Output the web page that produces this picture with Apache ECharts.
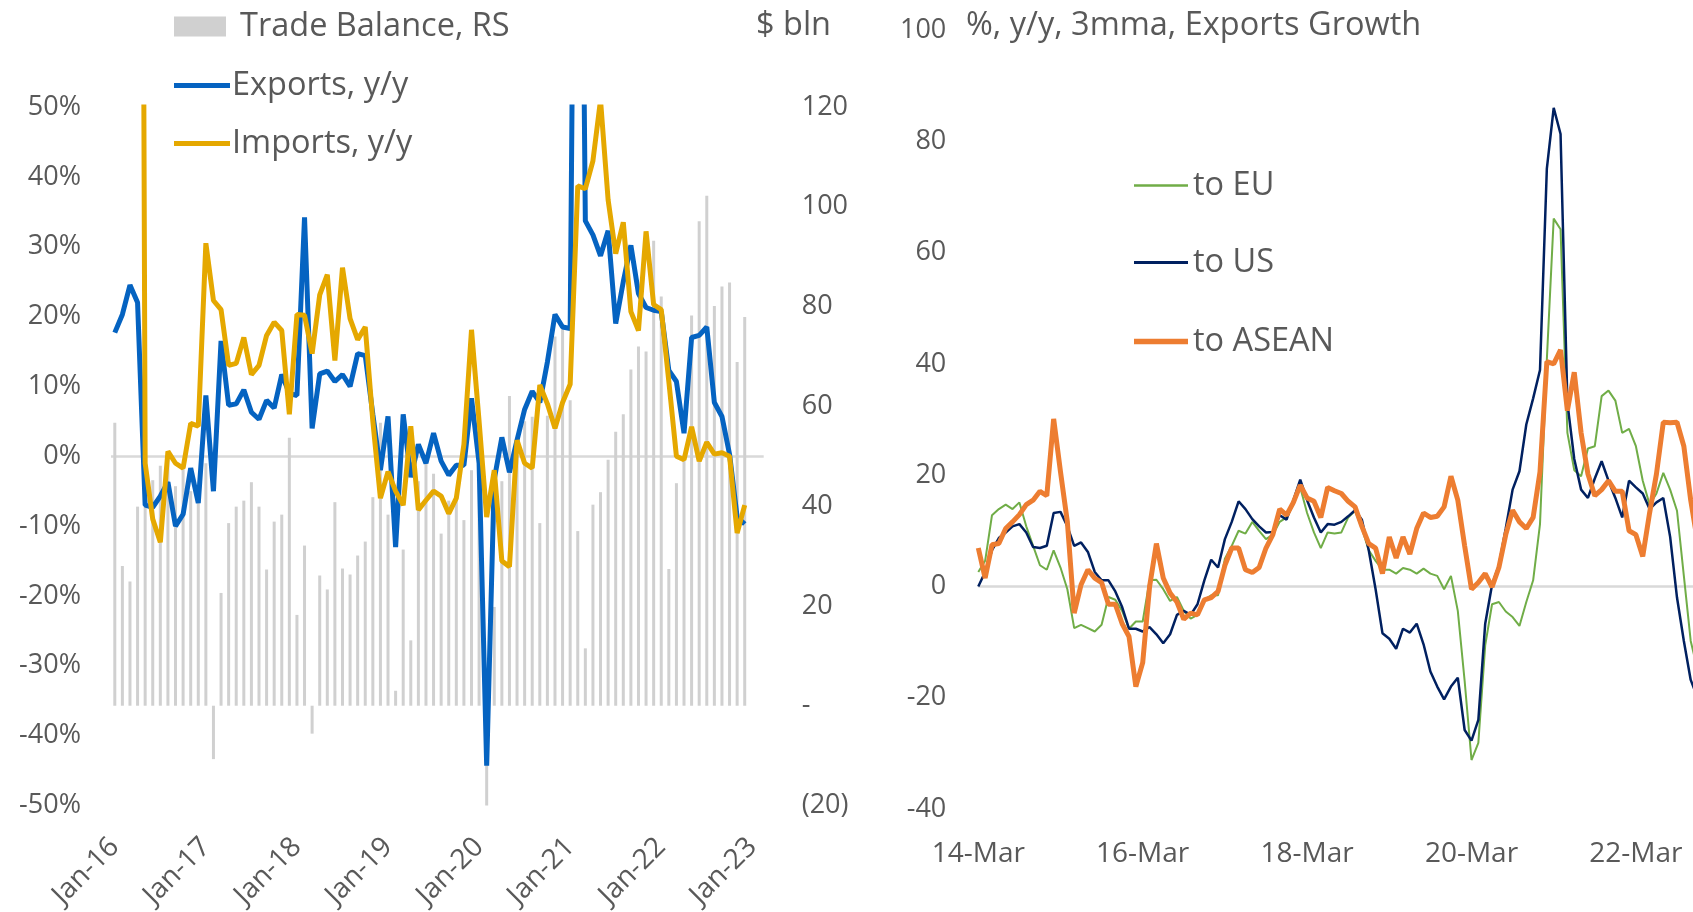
<!DOCTYPE html>
<html>
<head>
<meta charset="utf-8">
<script src="https://cdn.jsdelivr.net/npm/echarts@6/dist/echarts.min.js"></script>
<style>
html,body{margin:0;padding:0;background:#fff;overflow:hidden;width:1693px;height:912px;}
#c{width:1720px;height:912px;}
</style>
</head>
<body>
<div id="c"></div>
<script>
// ---------- category labels ----------
const MONTHS = ['Jan','Feb','Mar','Apr','May','Jun','Jul','Aug','Sep','Oct','Nov','Dec'];
// left panel: Jan-16 .. Feb-23
const leftCategories = [];
for (let y = 16; y <= 23; y++) {
  for (let m = 0; m < 12; m++) {
    if (y === 23 && m > 1) break;
    leftCategories.push(MONTHS[m] + '-' + y);
  }
}
// right panel: 14-Mar .. 23-Jan
const rightCategories = [];
for (let k = 0; k <= 106; k++) {
  const yy = 14 + Math.floor((2 + k) / 12);
  rightCategories.push(yy + '-' + MONTHS[(2 + k) % 12]);
}

// ---------- left panel data (Jan-16 .. Dec-22) ----------
const tradeBalance = [
  56.7, 28.0, 24.9, 39.9, 46.0, 45.2, 48.1, 50.0, 44.0, 47.6, 43.0, 42.0,
  48.6, -10.7, 22.6, 36.6, 39.9, 41.1, 44.8, 39.9, 27.3, 36.9, 38.3, 53.7,
  18.2, 32.1, -5.6, 26.1, 23.3, 40.8, 27.5, 26.3, 30.1, 32.9, 41.8, 56.7,
  38.3, 3.0, 31.3, 13.1, 45.0, 48.6, 46.5, 34.5, 41.1, 42.0, 37.2, 47.2,
  47.6, -20.4, 19.8, 45.0, 62.1, 50.4, 57.0, 57.9, 36.6, 58.1, 74.0, 76.0,
  61.2, 35.0, 11.5, 40.3, 42.8, 49.3, 54.9, 58.4, 67.4, 72.0, 71.0, 93.2,
  82.0, 27.4, 44.6, 50.0, 78.2, 97.1, 102.2, 80.1, 84.0, 84.8, 68.9, 77.9
];
const exportsYoY = [
  17.7, 20.3, 24.5, 22.0, -7.0, -7.3, -5.7, -3.7, -10.0, -8.3, -1.7, -6.7,
  8.7, -5.0, 16.5, 7.3, 7.5, 9.5, 6.3, 5.3, 8.0, 6.9, 11.7, 9.0,
  8.7, 34.2, 4.0, 11.8, 12.2, 10.7, 11.7, 10.0, 14.7, 14.4, 6.0, -2.0,
  5.7, -13.0, 6.0, -3.0, 1.7, -1.0, 3.3, -0.7, -2.7, -1.3, -1.3, 8.3,
  -1.0, -44.3, -3.3, 2.7, -2.3, 2.3, 6.7, 9.3, 7.7, 13.5, 20.3, 18.5,
  18.3, 150.0, 33.7, 31.7, 28.7, 32.3, 19.0, 25.0, 30.2, 23.3, 21.3, 20.9,
  20.7, 12.3, 10.7, 3.3, 17.0, 17.3, 18.5, 7.7, 5.7, 0.3, -8.7, -9.7
];
const importsYoY = [
  null, null, null, 300.0, -1.0, -9.0, -12.3, 0.7, -1.0, -1.7, 4.7, 4.3,
  30.5, 22.3, 21.0, 13.0, 13.3, 17.0, 11.7, 13.0, 17.3, 19.2, 18.0, 6.0,
  20.3, 20.2, 14.7, 23.1, 26.0, 13.7, 27.0, 19.7, 16.7, 18.5, 5.0, -6.0,
  -2.2, -5.0, -7.0, 4.3, -7.7, -6.3, -5.0, -5.7, -8.2, -6.0, 1.7, 18.1,
  5.0, -8.7, -2.0, -15.0, -15.8, 2.3, -1.0, -1.7, 10.2, 7.5, 4.0, 7.7,
  10.3, 38.7, 38.3, 42.3, 51.0, 36.7, 29.0, 33.5, 20.7, 18.0, 32.2, 21.7,
  21.0, 10.7, 0.0, -0.5, 4.2, -0.7, 2.0, 0.3, 0.5, 0.0, -11.0, -7.0
];

// ---------- right panel data (Mar-14 .. Dec-22) ----------
const toEU = [
  2.6, 4.6, 12.8, 13.9, 14.7, 13.9, 15.1, 10.8, 7.3, 3.8, 3.0, 6.5,
  3.4, -0.5, -7.5, -6.9, -7.5, -8.1, -6.9, -1.9, -2.4, -4.4, -7.6, -6.3,
  -6.3, 1.1, 1.2, -0.5, -2.6, -1.9, -4.4, -5.8, -5.1, -2.4, -1.6, -1.6,
  5.0, 7.3, 10.0, 9.5, 11.6, 10.0, 8.5, 9.3, 11.6, 12.4, 14.7, 17.8,
  13.2, 9.7, 6.9, 9.7, 9.5, 9.7, 12.4, 13.6, 10.4, 6.5, 4.6, 3.0,
  3.0, 2.3, 3.3, 3.0, 2.3, 3.2, 2.3, 1.9, -0.5, 1.9, -4.4, -17.0,
  -31.2, -28.1, -10.6, -3.2, -2.8, -4.5, -5.5, -7.1, -2.8, 1.1, 11.2, 40.8,
  66.1, 64.2, 27.6, 20.9, 19.8, 24.8, 25.2, 34.2, 35.2, 33.4, 27.6, 28.3,
  25.2, 19.0, 14.7, 16.7, 20.4, 17.4, 13.6, 1.9, -9.8, -15.0
];
const toUS = [
  0.0, 2.6, 6.5, 8.7, 9.7, 10.8, 11.2, 9.7, 7.1, 6.9, 7.3, 13.2,
  13.4, 10.8, 7.3, 7.9, 6.2, 2.6, 1.1, 1.1, -0.9, -3.7, -7.6, -7.6,
  -8.1, -7.3, -8.6, -10.2, -8.6, -5.1, -4.4, -5.1, -3.2, 1.1, 4.8, 3.4,
  8.5, 11.6, 15.3, 13.9, 12.1, 10.8, 9.7, 9.8, 12.8, 12.0, 15.5, 19.2,
  15.5, 12.4, 9.7, 11.2, 11.1, 11.6, 12.6, 13.7, 12.0, 6.5, -0.5, -8.4,
  -9.4, -11.2, -7.6, -8.3, -6.7, -10.4, -15.3, -18.0, -20.3, -18.0, -16.4, -25.8,
  -27.7, -24.0, -6.7, 0.3, 3.8, 10.4, 17.4, 20.7, 29.1, 33.8, 38.9, 75.1,
  86.0, 81.3, 33.0, 22.9, 17.4, 15.9, 19.4, 22.5, 19.0, 15.9, 12.4, 19.0,
  17.8, 16.7, 13.9, 15.1, 15.9, 8.9, -2.0, -9.8, -16.8, -20.0
];
const toASEAN = [
  6.9, 1.5, 7.5, 7.7, 10.4, 11.6, 12.9, 14.7, 15.5, 17.1, 16.3, 30.1,
  20.6, 11.6, -4.8, 0.3, 3.0, 1.5, 0.7, -3.2, -3.2, -6.7, -9.0, -18.0,
  -13.7, -0.1, 7.7, 1.5, -1.2, -2.8, -5.9, -4.8, -5.1, -2.4, -2.0, -0.9,
  3.8, 6.9, 6.9, 3.0, 2.5, 3.4, 6.9, 9.3, 13.9, 12.8, 15.1, 18.2,
  15.9, 15.3, 12.4, 17.8, 17.2, 16.7, 15.3, 14.3, 10.8, 7.7, 6.9, 2.3,
  8.9, 5.1, 8.9, 5.8, 10.4, 13.2, 12.4, 12.6, 14.3, 19.8, 15.5, 7.3,
  -0.5, 0.7, 2.3, -0.1, 3.4, 9.3, 13.7, 11.6, 10.4, 12.4, 20.6, 40.4,
  40.0, 42.5, 31.6, 38.5, 27.6, 20.2, 16.3, 17.4, 19.0, 17.1, 17.1, 10.0,
  9.3, 5.4, 13.2, 20.2, 29.5, 29.4, 29.5, 25.2, 15.5, 8.0
];

// ---------- tick labels ----------
const leftPctTicks = { min: -50, max: 50, step: 10 };
const leftBlnTicks = { min: -20, max: 120, step: 20 };
const rightTicks = { min: -40, max: 100, step: 20 };

// ---------- styling ----------
const TXT = '#595959';
const FONT = 'Open Sans';
const ZERO = '#D9D9D9';

function zeroOnly(t) {
  const n = Math.round((t.max - t.min) / t.step) + 1;
  const arr = [];
  for (let i = 0; i < n; i++) arr.push(t.min + i * t.step === 0 ? ZERO : 'rgba(0,0,0,0)');
  return arr;
}

const lbl = { fontFamily: FONT, fontSize: 27, color: TXT, padding: [5, 0, 0, 0] };
const xlbl = { fontFamily: FONT, fontSize: 28, color: TXT };
const legTxt = { fontFamily: FONT, fontSize: 32.5, color: TXT, lineHeight: 40 };

const chart = echarts.init(document.getElementById('c'), null, { renderer: 'canvas' });
chart.setOption({
  animation: false,
  backgroundColor: '#ffffff',
  textStyle: { fontFamily: FONT },
  title: [
    { text: '$ bln', left: 756, top: 6, padding: 0,
      textStyle: Object.assign({ fontWeight: 'normal' }, legTxt) },
    { text: '%, y/y, 3mma, Exports Growth', left: 966, top: 6, padding: 0,
      textStyle: Object.assign({ fontWeight: 'normal' }, legTxt) }
  ],
  legend: [
    { data: [{ name: 'Trade Balance, RS', icon: 'rect' }], left: 174, top: 5, padding: 0,
      itemWidth: 52, itemHeight: 20, selectedMode: false,
      textStyle: Object.assign({ padding: [3, 0, 0, 9] }, legTxt) },
    { data: [{ name: 'Exports, y/y', icon: 'rect' }], left: 174, top: 64, padding: 0,
      itemWidth: 56, itemHeight: 5, selectedMode: false,
      textStyle: Object.assign({ padding: [3, 0, 0, -3] }, legTxt) },
    { data: [{ name: 'Imports, y/y', icon: 'rect' }], left: 174, top: 122, padding: 0,
      itemWidth: 56, itemHeight: 5, selectedMode: false,
      textStyle: Object.assign({ padding: [3, 0, 0, -3] }, legTxt) },
    { data: [{ name: 'to EU', icon: 'rect' }], left: 1134, top: 164, padding: 0,
      itemWidth: 54, itemHeight: 2.5, selectedMode: false,
      textStyle: Object.assign({ padding: [3, 0, 0, 0] }, legTxt) },
    { data: [{ name: 'to US', icon: 'rect' }], left: 1134, top: 241, padding: 0,
      itemWidth: 54, itemHeight: 3, selectedMode: false,
      textStyle: Object.assign({ padding: [3, 0, 0, 0] }, legTxt) },
    { data: [{ name: 'to ASEAN', icon: 'rect' }], left: 1134, top: 320, padding: 0,
      itemWidth: 54, itemHeight: 5.5, selectedMode: false,
      textStyle: Object.assign({ padding: [3, 0, 0, 0] }, legTxt) }
  ],
  grid: [
    { left: 111, top: 107, width: 652.7, height: 702, containLabel: false },
    { left: 978.3, top: 30, width: 726.1, height: 779, containLabel: false }
  ],
  xAxis: [
    { type: 'category', gridIndex: 0, data: leftCategories, boundaryGap: true,
      axisLine: { show: false, onZero: false }, axisTick: { show: false },
      axisLabel: Object.assign({ interval: 11, rotate: 45, margin: 37 }, xlbl),
      splitLine: { show: false } },
    { type: 'category', gridIndex: 1, data: rightCategories, boundaryGap: false,
      axisLine: { show: false, onZero: false }, axisTick: { show: false },
      axisLabel: Object.assign({ interval: 23, margin: 31 }, xlbl),
      splitLine: { show: false } }
  ],
  yAxis: [
    { type: 'value', gridIndex: 0, position: 'left',
      min: leftPctTicks.min, max: leftPctTicks.max, interval: leftPctTicks.step,
      axisLine: { show: false }, axisTick: { show: false },
      axisLabel: Object.assign({ margin: 30, formatter: v => v + '%' }, lbl),
      splitLine: { show: true, lineStyle: { color: zeroOnly(leftPctTicks), width: 2.5 } } },
    { type: 'value', gridIndex: 0, position: 'right',
      min: leftBlnTicks.min, max: leftBlnTicks.max, interval: leftBlnTicks.step,
      axisLine: { show: false }, axisTick: { show: false },
      axisLabel: Object.assign({ margin: 38, formatter: v => v === 0 ? '-' : (v < 0 ? '(' + (-v) + ')' : String(v)) }, lbl),
      splitLine: { show: false } },
    { type: 'value', gridIndex: 1, position: 'left',
      min: rightTicks.min, max: rightTicks.max, interval: rightTicks.step,
      axisLine: { show: false }, axisTick: { show: false },
      axisLabel: Object.assign({ margin: 32 }, lbl),
      splitLine: { show: true, lineStyle: { color: zeroOnly(rightTicks), width: 2.5 } } }
  ],
  series: [
    { name: 'Trade Balance, RS', type: 'bar', xAxisIndex: 0, yAxisIndex: 1,
      data: tradeBalance, barWidth: 3, itemStyle: { color: '#D0D0D0' }, z: 1 },
    { name: 'Exports, y/y', type: 'line', xAxisIndex: 0, yAxisIndex: 0,
      data: exportsYoY, symbol: 'none', connectNulls: false, clip: true,
      lineStyle: { width: 5, color: '#0563C1' }, itemStyle: { color: '#0563C1' }, z: 3 },
    { name: 'Imports, y/y', type: 'line', xAxisIndex: 0, yAxisIndex: 0,
      data: importsYoY, symbol: 'none', connectNulls: false, clip: true,
      lineStyle: { width: 5, color: '#E5A800' }, itemStyle: { color: '#E5A800' }, z: 4 },
    { name: 'to EU', type: 'line', xAxisIndex: 1, yAxisIndex: 2,
      data: toEU, symbol: 'none', clip: true,
      lineStyle: { width: 2, color: '#70AD47' }, itemStyle: { color: '#70AD47' }, z: 3 },
    { name: 'to US', type: 'line', xAxisIndex: 1, yAxisIndex: 2,
      data: toUS, symbol: 'none', clip: true,
      lineStyle: { width: 2.5, color: '#002060' }, itemStyle: { color: '#002060' }, z: 4 },
    { name: 'to ASEAN', type: 'line', xAxisIndex: 1, yAxisIndex: 2,
      data: toASEAN, symbol: 'none', clip: true,
      lineStyle: { width: 5, color: '#ED7D31' }, itemStyle: { color: '#ED7D31' }, z: 5 }
  ]
});
</script>
</body>
</html>
